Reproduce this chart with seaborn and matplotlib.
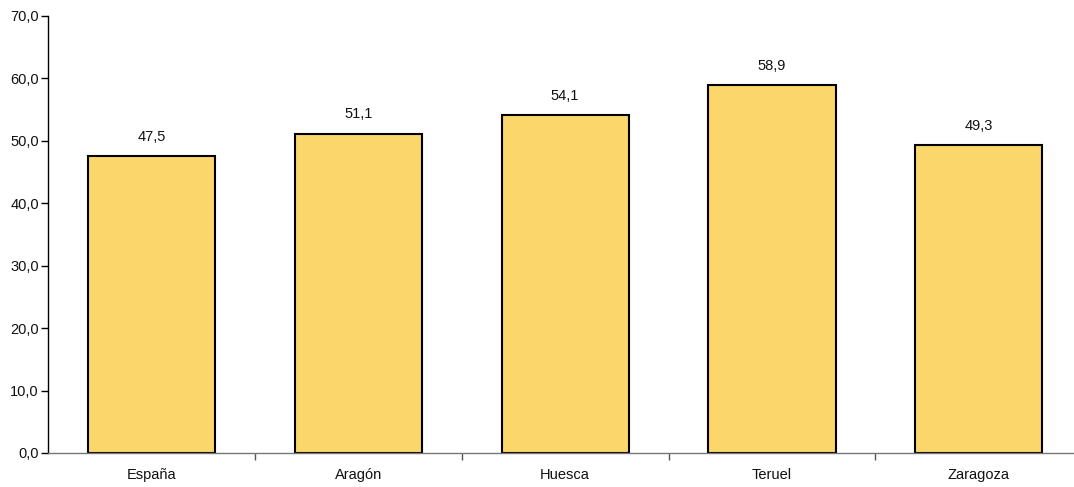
import matplotlib
matplotlib.use("Agg")
import matplotlib.pyplot as plt
import seaborn as sns
import pandas as pd

# Datos
territorios = ["España", "Aragón", "Huesca", "Teruel", "Zaragoza"]
valores = [47.5, 51.1, 54.1, 58.9, 49.3]

df = pd.DataFrame({"territorio": territorios, "valor": valores})

sns.set_theme(style="white")
plt.rcParams["font.family"] = ["Liberation Sans", "DejaVu Sans"]

fig = plt.figure(figsize=(10.74, 4.87), dpi=100)
ax = fig.add_axes([48 / 1074, 34 / 487, 1 - 48 / 1074, (453 - 16) / 487])

sns.barplot(data=df, x="territorio", y="valor", color="#FBD66B",
            edgecolor="black", linewidth=1.5, width=0.615, saturation=1, ax=ax)

# Etiquetas de valor sobre las barras
for i, v in enumerate(valores):
    ax.annotate(f"{v:.1f}".replace(".", ","), (i, v), xytext=(0, 9),
                textcoords="offset points", ha="center", va="bottom",
                fontsize=10.5, color="#111111")

ax.set_ylim(0, 70)
ax.set_xlim(-0.5, 4.46)
ax.set_yticks(range(0, 71, 10))
ax.set_yticklabels([f"{t:.1f}".replace(".", ",") for t in range(0, 71, 10)],
                   fontsize=10.5, color="#111111")
ax.set_xticks(range(len(territorios)))
ax.set_xticklabels(territorios, fontsize=10.5, color="#111111")
ax.tick_params(axis="x", length=0, pad=11)
ax.tick_params(axis="y", length=5, width=1, color="black", direction="out", left=True, pad=1.5)

# marcas del eje x entre categorías
ax.set_xticks([0.5, 1.5, 2.5, 3.5], minor=True)
ax.tick_params(axis="x", which="minor", length=5, width=1, color="#555555",
               direction="out", bottom=True)

ax.set_xlabel("")
ax.set_ylabel("")
for s in ["top", "right"]:
    ax.spines[s].set_visible(False)
ax.spines["left"].set_color("black")
ax.spines["left"].set_linewidth(1)
ax.spines["bottom"].set_color("#777777")
ax.spines["bottom"].set_linewidth(1)

fig.savefig("out.png", dpi=100)
